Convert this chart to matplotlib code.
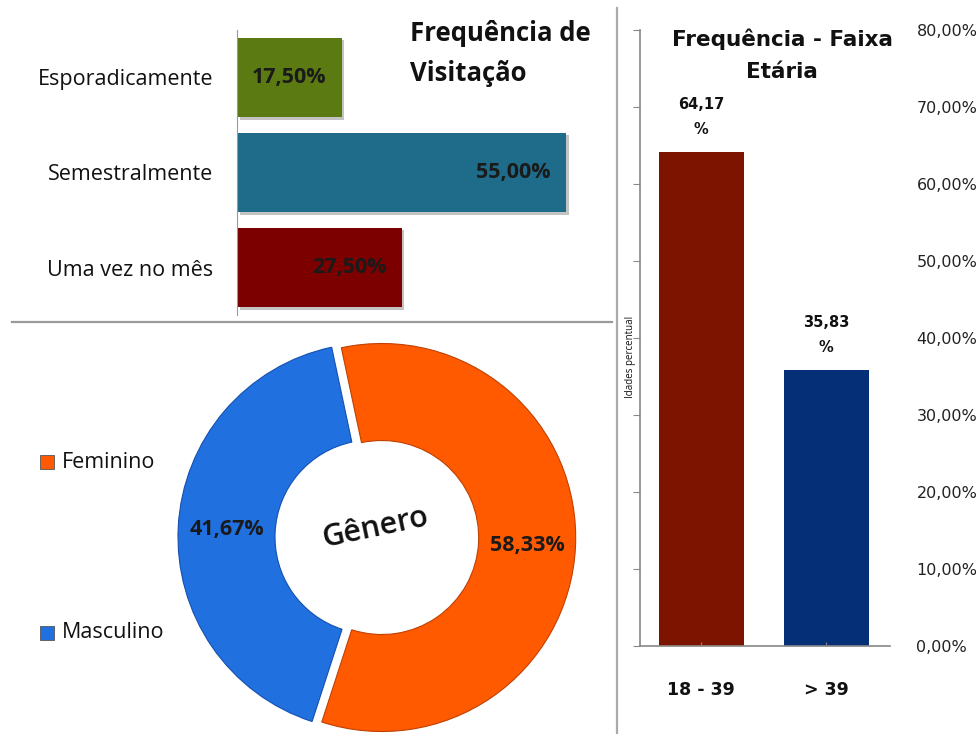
import matplotlib.pyplot as plt
import matplotlib.patheffects as pe
from matplotlib.patches import Rectangle
from matplotlib.lines import Line2D

W, H = 976, 734

# Frequência de visitação
visit_labels = ["Esporadicamente", "Semestralmente", "Uma vez no mês"]
visit_values = [17.50, 55.00, 27.50]
visit_colors = ["#5b7a12", "#1f6b8a", "#7d0000"]

# Gênero
gender_labels = ["Feminino", "Masculino"]
gender_values = [58.33, 41.67]
gender_colors = ["#ff5a00", "#2070e0"]

# Faixa etária
age_labels = ["18 - 39", "> 39"]
age_values = [64.17, 35.83]
age_colors = ["#7d1400", "#053078"]
age_ticks = [0, 10, 20, 30, 40, 50, 60, 70, 80]


def fmt(v):
    return f"{v:.2f}".replace(".", ",") + "%"


def px_axes(fig, x0, y0, x1, y1):
    """Axes placed by pixel box (top-left origin)."""
    return fig.add_axes([x0 / W, 1 - y1 / H, (x1 - x0) / W, (y1 - y0) / H])


fig = plt.figure(figsize=(W / 100, H / 100), dpi=100, facecolor="white")
LEFT_FONT = ["Open Sans", "DejaVu Sans"]
RIGHT_FONT = ["DejaVu Sans"]

# separators
fig.add_artist(Line2D([12 / W, 612 / W], [1 - 322 / H, 1 - 322 / H],
                      transform=fig.transFigure, color="#9a9a9a", lw=1.6))
fig.add_artist(Line2D([617 / W, 617 / W], [1 - 8 / H, 0],
                      transform=fig.transFigure, color="#aaaaaa", lw=1.6))

# ---- top-left: horizontal bars
ax1 = px_axes(fig, 237, 30, 608, 315)
shadow = [pe.SimplePatchShadow(offset=(2, -2), shadow_rgbFace="#888888", alpha=0.5), pe.Normal()]
bars = ax1.barh(range(len(visit_values)), visit_values, height=0.84, color=visit_colors)
for b in bars:
    b.set_path_effects(shadow)
ax1.set_ylim(2.5, -0.5)
ax1.set_xlim(0, 62)
for s in ["top", "right", "bottom"]:
    ax1.spines[s].set_visible(False)
ax1.spines["left"].set_color("#999999")
ax1.set_xticks([])
ax1.set_yticks(range(len(visit_labels)), visit_labels, family=LEFT_FONT)
ax1.tick_params(axis="y", length=0, pad=17, labelsize=15.5, labelcolor="#111111")
for i, v in enumerate(visit_values):
    ax1.annotate(fmt(v), xy=(v, i), xytext=(-11, 0), textcoords="offset points",
                 ha="right", va="center", fontsize=15.5, fontweight="bold",
                 color="#1a1a1a", family=LEFT_FONT)
fig.text(410 / W, 1 - 20 / H, "Frequência de\nVisitação", ha="left", va="top",
         fontsize=18.5, fontweight="bold", color="#111111", family=LEFT_FONT,
         linespacing=1.6)

# ---- bottom-left: donut
cx, cy, R = 372, 537, 194
k = 1.35
ax2 = px_axes(fig, cx - R * k, cy - R * k, cx + R * k, cy + R * k)
ax2.set_facecolor("none")
wedges, _, autotexts = ax2.pie(
    gender_values, colors=gender_colors, startangle=102, counterclock=False,
    explode=[0.05, 0], radius=1, autopct=lambda p: fmt(p), pctdistance=0.75,
    wedgeprops=dict(width=0.5, edgecolor="#c04000", linewidth=0.8),
    textprops=dict(fontsize=15.5, fontweight="bold", color="#1a1a1a", family=LEFT_FONT),
)
wedges[1].set_edgecolor("#1550b0")
ax2.set_xlim(-k, k)
ax2.set_ylim(-k, k)
ax2.set_aspect("equal")
ax2.axis("off")
ax2.text(0.015, 0.046, "Gênero", ha="center", va="center", rotation=12,
         fontsize=22, fontweight="semibold", color="#111111", family=LEFT_FONT)

for lab, col, y in zip(gender_labels, gender_colors, [462, 633]):
    fig.add_artist(Rectangle((40 / W, 1 - (y + 7) / H), 14 / W, 14 / H,
                             transform=fig.transFigure, facecolor=col,
                             edgecolor="#555555", lw=0.6))
    fig.text(62 / W, 1 - y / H, lab, ha="left", va="center", fontsize=15.5,
             color="#111111", family=LEFT_FONT)

# ---- right: vertical bars
ax3 = px_axes(fig, 640, 30, 890, 646)
ax3.bar(range(len(age_values)), age_values, width=0.68, color=age_colors)
ax3.set_xlim(-0.49, 1.51)
ax3.set_ylim(0, 80)
for s in ["top", "right"]:
    ax3.spines[s].set_visible(False)
for s in ["left", "bottom"]:
    ax3.spines[s].set_color("#888888")
    ax3.spines[s].set_linewidth(1.2)
ax3.set_yticks(age_ticks, [fmt(t) for t in age_ticks], family=RIGHT_FONT)
ax3.tick_params(axis="y", left=True, labelleft=False, right=False, labelright=True,
                direction="out", length=5, color="#888888", pad=14,
                labelsize=11.5, labelcolor="#222222")
ax3.set_xticks(range(len(age_labels)), age_labels, family=RIGHT_FONT, fontweight="bold")
ax3.tick_params(axis="x", direction="in", length=3, color="#888888", pad=25,
                labelsize=12.5, labelcolor="#111111")
ax3.text(-0.04, 0.47, "Idades percentual", rotation=90, ha="center", va="center",
         fontsize=7, color="#111111", transform=ax3.transAxes, family=LEFT_FONT)
for i, v in enumerate(age_values):
    ax3.annotate(f"{v:.2f}".replace(".", ",") + "\n%", xy=(i, v), xytext=(0, 11),
                 textcoords="offset points", ha="center", va="bottom",
                 fontsize=10.5, fontweight="bold", color="#111111",
                 family=RIGHT_FONT, linespacing=1.8)
fig.text(782 / W, 1 - 29 / H, "Frequência - Faixa\nEtária", ha="center", va="top",
         fontsize=15.5, fontweight="bold", color="#111111", family=RIGHT_FONT,
         linespacing=1.75)

plt.savefig("out.png", dpi=100, facecolor="white")
